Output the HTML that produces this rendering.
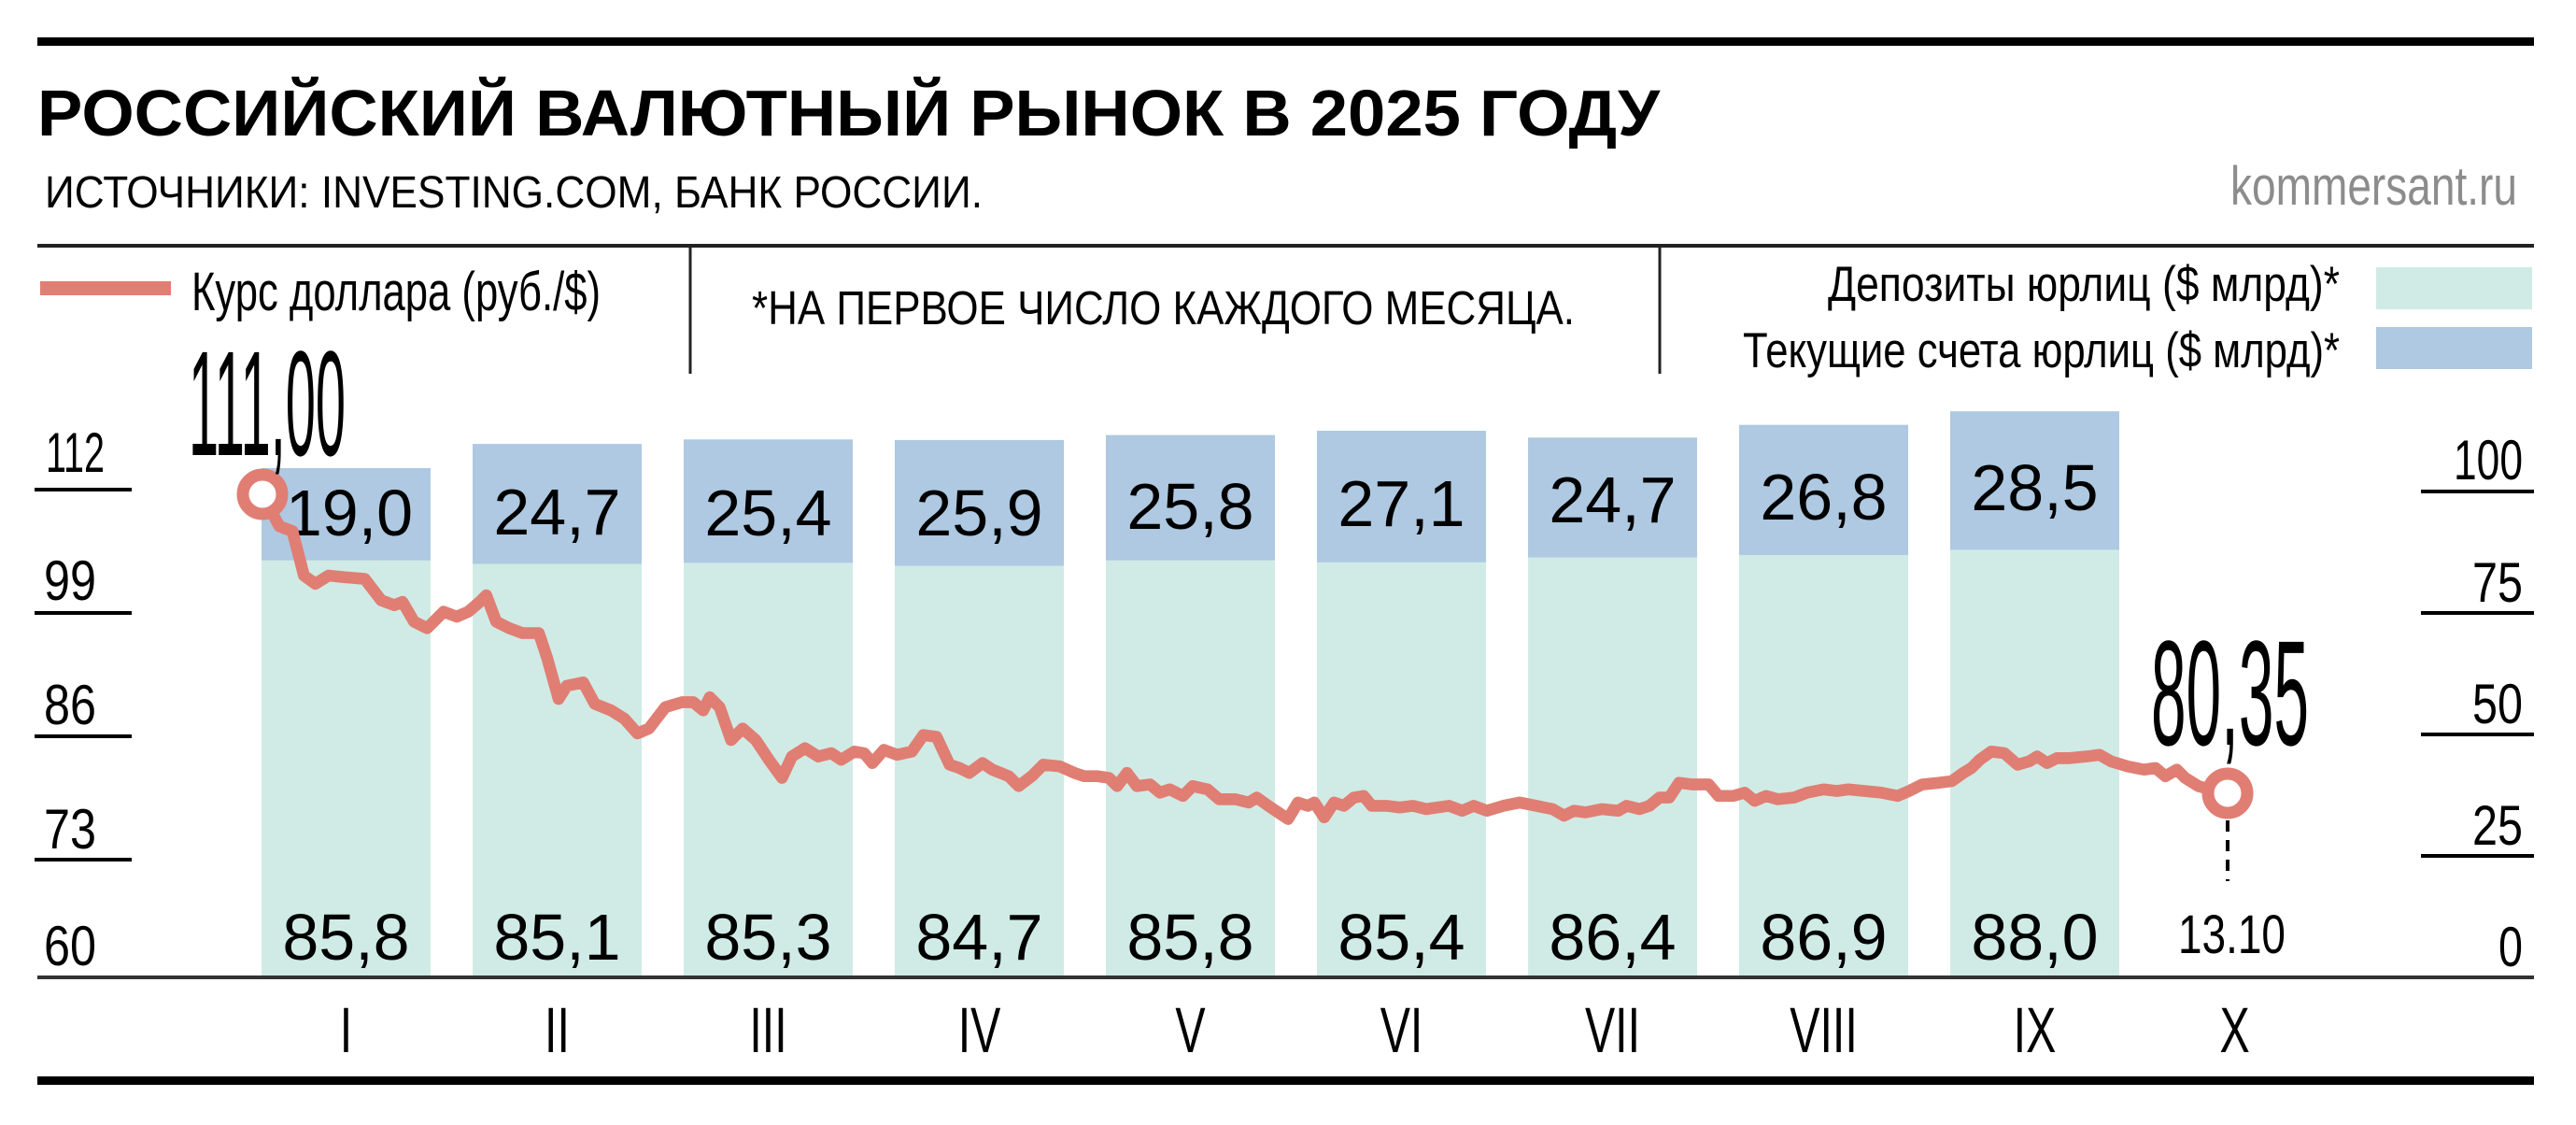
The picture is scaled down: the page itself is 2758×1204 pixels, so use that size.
<!DOCTYPE html>
<html><head><meta charset="utf-8"><style>html,body{margin:0;padding:0;background:#fff}svg{display:block}text{font-family:"Liberation Sans","Noto Sans CJK SC",sans-serif;fill:#000}</style></head>
<body>
<svg width="2758" height="1204" viewBox="0 0 2758 1204" xmlns="http://www.w3.org/2000/svg">
<rect x="40" y="40" width="2673" height="9" fill="#000"/>
<text x="40" y="145" font-size="70" font-weight="bold" textLength="1737" lengthAdjust="spacingAndGlyphs">РОССИЙСКИЙ ВАЛЮТНЫЙ РЫНОК В 2025 ГОДУ</text>
<text x="48" y="222" font-size="48" textLength="1004" lengthAdjust="spacingAndGlyphs">ИСТОЧНИКИ: INVESTING.COM, БАНК РОССИИ.</text>
<text x="2388" y="219" font-size="58" fill="#8c8c8c" style="fill:#8c8c8c" textLength="307" lengthAdjust="spacingAndGlyphs">kommersant.ru</text>
<line x1="40" y1="263" x2="2713" y2="263" stroke="#222" stroke-width="4"/>
<line x1="739" y1="263" x2="739" y2="400" stroke="#222" stroke-width="3"/>
<line x1="1777" y1="263" x2="1777" y2="400" stroke="#222" stroke-width="3"/>
<rect x="43" y="301" width="140" height="15" fill="#e07e74"/>
<text x="205" y="332" font-size="58" textLength="438" lengthAdjust="spacingAndGlyphs">Курс доллара (руб./$)</text>
<text x="805" y="347" font-size="51" textLength="881" lengthAdjust="spacingAndGlyphs">*НА ПЕРВОЕ ЧИСЛО КАЖДОГО МЕСЯЦА.</text>
<text x="1957" y="322" font-size="53" textLength="548" lengthAdjust="spacingAndGlyphs">Депозиты юрлиц ($ млрд)*</text>
<text x="1866" y="393" font-size="53" textLength="639" lengthAdjust="spacingAndGlyphs">Текущие счета юрлиц ($ млрд)*</text>
<rect x="2544" y="286" width="167" height="45" fill="#d0ebe5"/>
<rect x="2544" y="350" width="167" height="45" fill="#aec9e1"/>

<g>
<rect x="280" y="599.8" width="181" height="446.2" fill="#d0ebe5"/><rect x="280" y="501.0" width="181" height="98.8" fill="#aec9e1"/>
<rect x="506" y="603.5" width="181" height="442.5" fill="#d0ebe5"/><rect x="506" y="475.1" width="181" height="128.4" fill="#aec9e1"/>
<rect x="732" y="602.4" width="181" height="443.6" fill="#d0ebe5"/><rect x="732" y="470.3" width="181" height="132.1" fill="#aec9e1"/>
<rect x="958" y="605.6" width="181" height="440.4" fill="#d0ebe5"/><rect x="958" y="470.9" width="181" height="134.7" fill="#aec9e1"/>
<rect x="1184" y="599.8" width="181" height="446.2" fill="#d0ebe5"/><rect x="1184" y="465.6" width="181" height="134.2" fill="#aec9e1"/>
<rect x="1410" y="601.9" width="181" height="444.1" fill="#d0ebe5"/><rect x="1410" y="461.0" width="181" height="140.9" fill="#aec9e1"/>
<rect x="1636" y="596.7" width="181" height="449.3" fill="#d0ebe5"/><rect x="1636" y="468.3" width="181" height="128.4" fill="#aec9e1"/>
<rect x="1862" y="594.1" width="181" height="451.9" fill="#d0ebe5"/><rect x="1862" y="454.7" width="181" height="139.4" fill="#aec9e1"/>
<rect x="2088" y="588.4" width="181" height="457.6" fill="#d0ebe5"/><rect x="2088" y="440.2" width="181" height="148.2" fill="#aec9e1"/>
</g>
<g font-size="70" text-anchor="middle">
<text x="374" y="573">19,0</text><text x="596.5" y="572">24,7</text><text x="822.5" y="573">25,4</text><text x="1048.5" y="573">25,9</text><text x="1274.5" y="566">25,8</text><text x="1500.5" y="563">27,1</text><text x="1726.5" y="559">24,7</text><text x="1952.5" y="556">26,8</text><text x="2178.5" y="546">28,5</text>
<text x="370.5" y="1027">85,8</text><text x="596.5" y="1027">85,1</text><text x="822.5" y="1027">85,3</text><text x="1048.5" y="1027">84,7</text><text x="1274.5" y="1027">85,8</text><text x="1500.5" y="1027">85,4</text><text x="1726.5" y="1027">86,4</text><text x="1952.5" y="1027">86,9</text><text x="2178.5" y="1027">88,0</text>
</g>

<line x1="40" y1="1046" x2="2713" y2="1046" stroke="#333" stroke-width="4"/>
<g stroke="#000" stroke-width="4">
<line x1="37" y1="524" x2="141" y2="524"/><line x1="37" y1="656" x2="141" y2="656"/><line x1="37" y1="788" x2="141" y2="788"/><line x1="37" y1="920" x2="141" y2="920"/>
<line x1="2592" y1="526" x2="2713" y2="526"/><line x1="2592" y1="656" x2="2713" y2="656"/><line x1="2592" y1="786" x2="2713" y2="786"/><line x1="2592" y1="916" x2="2713" y2="916"/>
</g>
<g font-size="60">
<text x="49" y="505" textLength="63" lengthAdjust="spacingAndGlyphs">112</text>
<text x="47" y="642" textLength="56" lengthAdjust="spacingAndGlyphs">99</text>
<text x="47" y="775" textLength="56" lengthAdjust="spacingAndGlyphs">86</text>
<text x="47" y="908" textLength="56" lengthAdjust="spacingAndGlyphs">73</text>
<text x="47" y="1033" textLength="56" lengthAdjust="spacingAndGlyphs">60</text>
<text x="2627" y="513" textLength="74" lengthAdjust="spacingAndGlyphs">100</text>
<text x="2647" y="644" textLength="54" lengthAdjust="spacingAndGlyphs">75</text>
<text x="2647" y="774" textLength="54" lengthAdjust="spacingAndGlyphs">50</text>
<text x="2647" y="904" textLength="54" lengthAdjust="spacingAndGlyphs">25</text>
<text x="2675" y="1034" textLength="26" lengthAdjust="spacingAndGlyphs">0</text>
</g>

<g transform="scale(0.7 1)" font-size="69" text-anchor="middle">
<text x="529.3" y="1126">I</text><text x="852.1" y="1126">II</text><text x="1175" y="1126">III</text><text x="1497.9" y="1126">IV</text><text x="1820.7" y="1126">V</text><text x="2143.6" y="1126">VI</text><text x="2466.4" y="1126">VII</text><text x="2789.3" y="1126">VIII</text><text x="3112.1" y="1126">IX</text><text x="3418" y="1126">X</text>
</g>
<rect x="40" y="1152" width="2673" height="9" fill="#000"/>

<g transform="scale(1.759 1.76)">
<polyline fill="none" stroke="#e07e74" stroke-width="7.2" stroke-linejoin="round" points="159.7,300.6 170,320 178,323 185,350 192,355 200,350 210,351 222,352 232,365 240,368 245,366 252,378 260,382 270,372 278,375 285,372 292,366 296,362 302,378 310,382 318,385 328,385 333,400 340,425 345,417 355,415 362,428 372,432 380,437 388,446 395,443 405,430 415,427 422,427 428,432 432,424 438,430 445,450 452,443 460,450 468,462 476,473 482,460 490,455 498,460 506,458 512,462 520,457 526,458 531,464 538,456 546,459 555,457 562,447 570,448 578,465 584,467 590,470 598,464 604,468 614,472 620,478 628,472 635,465 645,466 654,470 660,472 668,472 675,473 680,478 686,470 692,478 700,477 706,482 712,480 720,484 726,478 735,480 742,486 752,486 760,488 765,485 772,490 778,494 784,498 790,488 796,490 800,488 806,497 812,488 818,490 824,485 830,484 835,490 844,490 852,491 860,490 868,492 875,491 882,490 890,493 897,490 905,493 915,490 925,488 935,490 945,492 952,496 958,493 965,494 975,492 985,493 990,490 998,492 1004,490 1010,485 1016,485 1022,476 1030,477 1040,477 1046,484 1055,484 1062,482 1068,487 1075,484 1082,486 1092,485 1100,482 1110,480 1118,481 1125,480 1135,481 1145,482 1155,484 1162,481 1170,477 1180,476 1188,475 1195,470 1200,467 1205,462 1212,457 1220,458 1228,465 1235,463 1240,460 1246,464 1252,461 1260,461 1270,460 1278,459 1285,463 1295,466 1305,468 1312,467 1318,472 1325,468 1330,473 1338,478 1345,480 1356,482.4"/>
</g>
<circle cx="281" cy="529" r="21" fill="#fff" stroke="#e07e74" stroke-width="13"/>
<circle cx="2385" cy="849" r="21" fill="#fff" stroke="#e07e74" stroke-width="13"/>
<line x1="2385" y1="878" x2="2385" y2="943" stroke="#000" stroke-width="4" stroke-dasharray="12,9"/>
<text x="202" y="487" font-size="160" textLength="168" lengthAdjust="spacingAndGlyphs">111,00</text>
<text x="2303" y="797" font-size="160" textLength="169" lengthAdjust="spacingAndGlyphs">80,35</text>
<text x="2332" y="1020" font-size="58" textLength="115" lengthAdjust="spacingAndGlyphs">13.10</text>
</svg>
</body></html>
